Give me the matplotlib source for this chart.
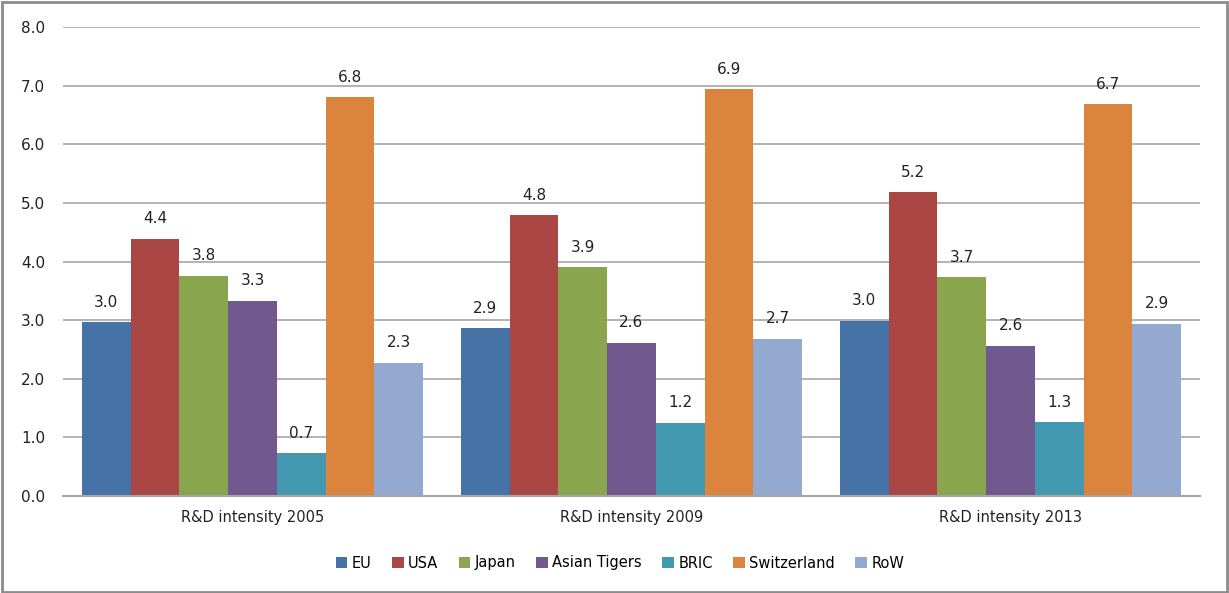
import numpy as np
import matplotlib
matplotlib.use('Agg')
import matplotlib.pyplot as plt
from matplotlib.patches import Rectangle

# R&D intensity by region
groups = ['R&D intensity 2005', 'R&D intensity 2009', 'R&D intensity 2013']
regions = ['EU', 'USA', 'Japan', 'Asian Tigers', 'BRIC', 'Switzerland', 'RoW']
eu = [2.96, 2.86, 2.99]
usa = [4.39, 4.79, 5.18]
japan = [3.76, 3.90, 3.73]
asian_tigers = [3.33, 2.61, 2.56]
bric = [0.73, 1.25, 1.26]
switzerland = [6.80, 6.94, 6.68]
row = [2.27, 2.68, 2.94]
series = [eu, usa, japan, asian_tigers, bric, switzerland, row]
colors = ['#4572A7', '#AA4643', '#89A54E', '#71588F', '#4198AF', '#DB843D', '#93A9CF']

fig = plt.figure(figsize=(12.29, 5.93), dpi=100)
ax = fig.add_axes([63 / 1229, 1 - 496 / 593, (1200 - 63) / 1229, (496 - 27) / 593])

n = len(series)
bar_w = 0.9 / n
x = np.arange(len(groups))
for i, (vals, name, c) in enumerate(zip(series, regions, colors)):
    pos = x - 0.45 + bar_w * (i + 0.5)
    ax.bar(pos, vals, width=bar_w, color=c, label=name, zorder=2)
    for px, v in zip(pos, vals):
        ax.annotate('%.1f' % v, (px, v), xytext=(0, 9), textcoords='offset points',
                    ha='center', va='bottom', fontsize=11, color='#222222')

ax.set_xlim(-0.5, len(groups) - 0.5)
ax.set_ylim(0, 8)
ax.set_yticks(np.arange(0, 8.01, 1.0))
ax.set_yticklabels(['%.1f' % t for t in np.arange(0, 8.01, 1.0)], fontsize=11, color='#222222')
ax.set_xticks(x)
ax.set_xticklabels(groups, fontsize=10.5, color='#222222')
ax.tick_params(axis='both', length=0)
ax.tick_params(axis='y', pad=13)
ax.tick_params(axis='x', pad=10)
ax.yaxis.grid(True, color='#a6a6a6', linewidth=1.2, zorder=0)
ax.set_axisbelow(True)
for s in ['top', 'right', 'left']:
    ax.spines[s].set_visible(False)
ax.spines['bottom'].set_color('#a6a6a6')
ax.spines['bottom'].set_linewidth(1.5)

fig.legend(loc='center', bbox_to_anchor=(620 / 1229, 1 - 563 / 593), ncol=n, frameon=False,
           fontsize=10.5, handlelength=0.8, handleheight=0.8, handletextpad=0.3, columnspacing=1.4)

# grey frame around the whole chart
fig.patches.append(Rectangle((0.002, 0.002), 0.996, 0.994, transform=fig.transFigure,
                             fill=False, edgecolor='#8c8c8c', linewidth=2))

fig.savefig('out.png', dpi=100)
